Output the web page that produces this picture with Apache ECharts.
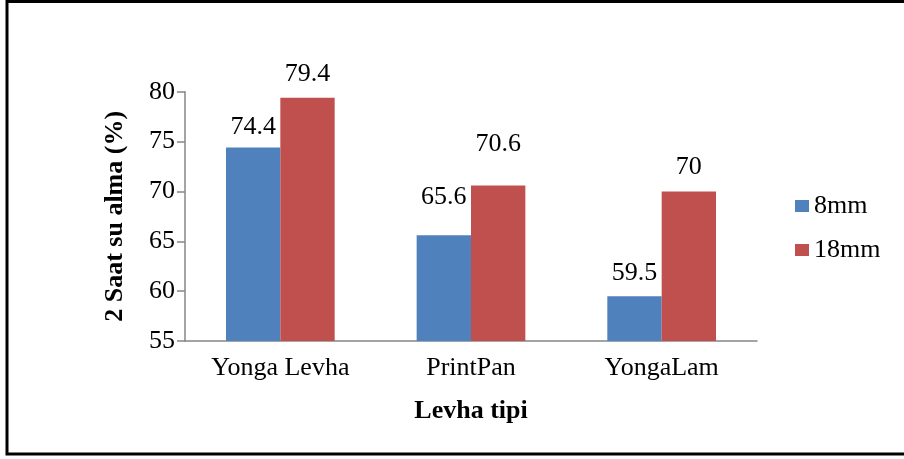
<!DOCTYPE html>
<html>
<head>
<meta charset="utf-8">
<script src="https://cdn.jsdelivr.net/npm/echarts@6/dist/echarts.min.js"></script>
<style>
  html, body { margin: 0; padding: 0; background: #fff; }
  #chart { width: 904px; height: 459px; }
</style>
</head>
<body>
<div id="chart"></div>
<script>
  // data
  const categories = ['Yonga Levha', 'PrintPan', 'YongaLam'];
  const seriesNames = ['8mm', '18mm'];
  const values8mm = [74.4, 65.6, 59.5];
  const values18mm = [79.4, 70.6, 70];
  const yTicks = [55, 60, 65, 70, 75, 80];

  // label lift above each bar (labels were placed by hand in the original)
  const lift8mm = [7, 25, 10];
  const lift18mm = [11, 28, 11];

  const font = '"Liberation Serif", "Times New Roman", serif';

  function withLabels(vals, lifts) {
    return vals.map((v, i) => ({
      value: v,
      label: { distance: lifts[i] }
    }));
  }

  let myChart = echarts.init(document.getElementById('chart'));
  myChart.setOption({
    animation: false,
    backgroundColor: '#fff',
    textStyle: { fontFamily: font },
    grid: { left: 185, right: 147, top: 91.7, bottom: 118 },
    legend: {
      orient: 'vertical',
      left: 795,
      top: 193,
      padding: 0,
      itemWidth: 14,
      itemHeight: 12,
      itemGap: 18,
      icon: 'rect',
      data: seriesNames,
      textStyle: { fontFamily: font, fontSize: 26, color: '#000' }
    },
    xAxis: {
      type: 'category',
      data: categories,
      name: 'Levha tipi',
      nameLocation: 'middle',
      nameGap: 57,
      nameTextStyle: { fontFamily: font, fontSize: 26, fontWeight: 'bold', color: '#000' },
      axisLine: { lineStyle: { color: '#868686', width: 1.5 } },
      axisTick: { length: 9, lineStyle: { color: '#868686', width: 1.5 } },
      axisLabel: { margin: 14, fontFamily: font, fontSize: 26, color: '#000' }
    },
    yAxis: {
      type: 'value',
      min: yTicks[0],
      max: yTicks[yTicks.length - 1],
      interval: 5,
      name: '2 Saat su alma (%)',
      nameLocation: 'middle',
      nameGap: 57,
      nameTextStyle: { fontFamily: font, fontSize: 26, fontWeight: 'bold', color: '#000' },
      axisLine: { show: true, lineStyle: { color: '#868686', width: 1.5 } },
      axisTick: { show: true, length: 8, lineStyle: { color: '#868686', width: 1.5 } },
      axisLabel: { margin: 10, fontFamily: font, fontSize: 26, color: '#000' },
      splitLine: { show: false }
    },
    series: [
      {
        name: seriesNames[0],
        type: 'bar',
        data: withLabels(values8mm, lift8mm),
        barGap: '0%',
        barCategoryGap: '43%',
        itemStyle: { color: '#4F81BD' },
        label: { show: true, position: 'top', fontFamily: font, fontSize: 26, color: '#000' }
      },
      {
        name: seriesNames[1],
        type: 'bar',
        data: withLabels(values18mm, lift18mm),
        barGap: '0%',
        barCategoryGap: '43%',
        itemStyle: { color: '#C0504D' },
        label: { show: true, position: 'top', fontFamily: font, fontSize: 26, color: '#000' }
      }
    ],
    graphic: [
      {
        type: 'rect',
        shape: { x: 7, y: 1.5, width: 910, height: 452.5 },
        style: { fill: 'none', stroke: '#000', lineWidth: 3 },
        silent: true
      }
    ]
  });
</script>
</body>
</html>
